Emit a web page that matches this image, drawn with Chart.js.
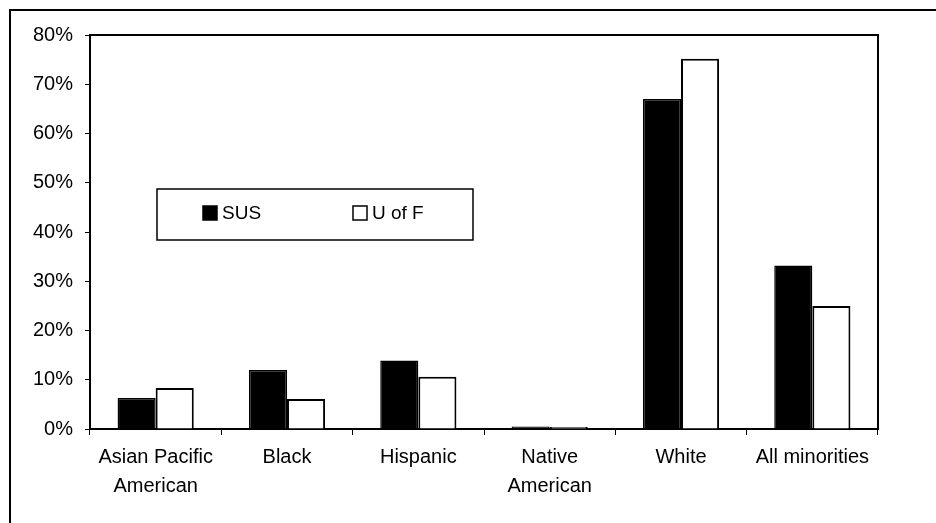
<!DOCTYPE html>
<html>
<head>
<meta charset="utf-8">
<script src="https://cdn.jsdelivr.net/npm/chart.js@4"></script>
<style>
  body { margin: 0; background: #fff; }
  canvas { display: block; }
</style>
</head>
<body>
<canvas id="raceChart" width="936" height="523"></canvas>
<script>
const categories = [['Asian Pacific', 'American'], 'Black', 'Hispanic', ['Native', 'American'], 'White', 'All minorities'];
const susValues = [6.3, 12.0, 13.9, 0.5, 67.0, 33.2];
const ufValues = [8.3, 6.1, 10.6, 0.4, 75.2, 25.0];
const yTicks = [0, 10, 20, 30, 40, 50, 60, 70, 80];

const FONT = 'Liberation Sans, Arial, sans-serif';

// frame around the picture, box around the plot and the legend box
const framePlugin = {
  id: 'frame',
  afterDraw(chart) {
    const ctx = chart.ctx;
    const a = chart.chartArea;
    ctx.save();
    ctx.strokeStyle = '#000';
    ctx.lineWidth = 2;
    ctx.beginPath();
    ctx.moveTo(10, 523);
    ctx.lineTo(10, 10);
    ctx.lineTo(936, 10);
    ctx.stroke();

    ctx.lineWidth = 2;
    ctx.beginPath();
    ctx.moveTo(a.left, a.top);
    ctx.lineTo(a.right, a.top);
    ctx.lineTo(a.right, a.bottom);
    ctx.stroke();

    // legend
    ctx.lineWidth = 1.5;
    ctx.strokeRect(157, 189, 316, 51);
    ctx.font = '19px ' + FONT;
    ctx.textBaseline = 'middle';
    ctx.fillStyle = '#000';
    const xs = [203, 353];
    chart.data.datasets.forEach((ds, i) => {
      const x = xs[i];
      ctx.fillStyle = ds.backgroundColor;
      ctx.fillRect(x, 206, 14, 14);
      ctx.lineWidth = 1.5;
      ctx.strokeRect(x, 206, 14, 14);
      ctx.fillStyle = '#000';
      ctx.fillText(ds.label, x + 19, 214);
    });
    ctx.restore();
  }
};

const config = {
  type: 'bar',
  data: {
    labels: categories,
    datasets: [
      { label: 'SUS', data: susValues, backgroundColor: '#000', borderColor: '#000', borderWidth: 1.5 },
      { label: 'U of F', data: ufValues, backgroundColor: '#fff', borderColor: '#000', borderWidth: 2 }
    ]
  },
  options: {
    responsive: false,
    animation: false,
    events: [],
    layout: { padding: { left: 0, top: 35, right: 58, bottom: 0 } },
    datasets: { bar: { categoryPercentage: 0.58, barPercentage: 1 } },
    plugins: {
      legend: { display: false },
      tooltip: { enabled: false }
    },
    scales: {
      x: {
        grid: { offset: true, drawOnChartArea: false, drawTicks: true, tickLength: 6, color: '#000', tickColor: '#000' },
        border: { display: true, color: '#000', width: 2 },
        ticks: { color: '#000', maxRotation: 0, autoSkip: false, padding: 8, font: { family: FONT, size: 20, lineHeight: 1.45 } },
        afterFit(scale) { scale.height = 94; }
      },
      y: {
        min: 0,
        max: 80,
        afterBuildTicks(scale) { scale.ticks = yTicks.map(v => ({ value: v })); },
        grid: { drawOnChartArea: false, drawTicks: true, tickLength: 5, color: '#000', tickColor: '#000' },
        border: { display: true, color: '#000', width: 2 },
        ticks: { color: '#000', padding: 12, font: { family: FONT, size: 20 }, callback: v => v + '%' },
        afterFit(scale) { scale.width = 90; }
      }
    }
  },
  plugins: [framePlugin]
};

window.onload = function() {
  const ctx = document.getElementById('raceChart').getContext('2d');
  new Chart(ctx, config);
};
</script>
</body>
</html>
